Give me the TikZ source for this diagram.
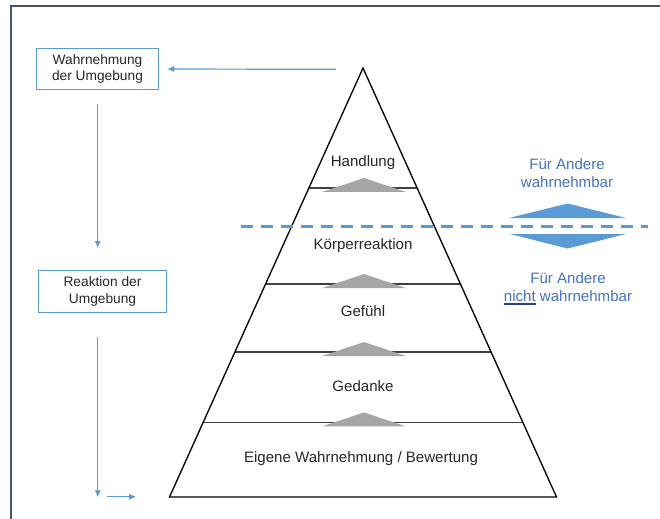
\documentclass[tikz,border=0pt]{standalone}
\usepackage{fontspec}
\setmainfont{Liberation Sans}
\usetikzlibrary{arrows.meta,calc}
\definecolor{framec}{HTML}{44546A}
\definecolor{lblue}{HTML}{5B9BD5}
\definecolor{tblue}{HTML}{4472C4}
\definecolor{ublue}{HTML}{2F3C8F}
\definecolor{tric}{HTML}{A6A6A6}
\definecolor{txt}{HTML}{262626}
\begin{document}
\begin{tikzpicture}[x=0.75pt,y=-0.75pt,
  box/.style={draw=lblue,line width=0.9pt,inner sep=0pt,align=center,text=txt,
    font=\fontsize{10.3}{12.6}\selectfont},
  pyr/.style={draw=black,line width=1pt,line join=miter},
  layer/.style={draw=black!75,line width=0.8pt},
  lbl/.style={text=txt,font=\fontsize{11.3}{13.5}\selectfont,align=center,inner sep=0pt},
  rlbl/.style={lbl,text=tblue},
  arr/.style={draw=lblue,line width=0.9pt,-{Latex[length=5.2pt,width=4.6pt]}},
  graytri/.style={fill=tric,draw=none},
  bluetri/.style={fill=lblue,draw=none},
  sepline/.style={draw=lblue,line width=2.2pt,dash pattern=on 9pt off 6pt}
]
\useasboundingbox (0,0) rectangle (660,518);
\draw[framec,line width=1.5pt] (11,530) -- (11,6) -- (670,6);

% pyramid
\coordinate (apex) at (363,68);
\coordinate (bl) at (169.5,497);
\coordinate (br) at (556.5,497);
\foreach \t/\n in {0.2797/a,0.5035/b,0.662/c,0.8263/d} {
  \coordinate (L\n) at ($(apex)!\t!(bl)$);
  \coordinate (R\n) at ($(apex)!\t!(br)$);
  \coordinate (M\n) at ($(L\n)!0.5!(R\n)$);
  \draw[layer] (L\n) -- (R\n);
  \fill[graytri] ($(M\n)+(-41,4)$) -- ($(M\n)+(1,-10)$) -- ($(M\n)+(43,4)$) -- cycle;
}
\draw[pyr] (apex) -- (br) -- (bl) -- cycle;

\node[lbl] (handlung) at (363,162.5) {Handlung};
\node[lbl] (koerper) at (363,245.5) {Körperreaktion};
\node[lbl] (gefuehl) at (363,311) {Gefühl};
\node[lbl] (gedanke) at (363,386) {Gedanke};
\node[lbl] (eigene) at (361,458.5) {Eigene Wahrnehmung / Bewertung};

% visibility separator
\coordinate (dl) at (241,226.5);
\coordinate (dr) at (648,226.5);
\draw[sepline] (dl) -- (dr);
\fill[bluetri] (509,218) -- (567.5,203.5) -- (626,218) -- cycle;
\fill[bluetri] (510,234) -- (567.5,248.5) -- (626,234) -- cycle;

\node[rlbl] (sicht) at (567,173) {Für Andere\\wahrnehmbar};
\node[rlbl] (unsicht) at (568,289) {Für Andere\\\setbox0\hbox{nicht}{\color{ublue}\rlap{\rule[-2.2pt]{\wd0}{1.1pt}}}nicht wahrnehmbar};

% environment boxes
\node[box,minimum width=91.2pt,minimum height=31.3pt] (wahr) at (97.5,69) {Wahrnehmung\\der Umgebung};
\node[box,minimum width=96.3pt,minimum height=31.5pt] (reak) at (102.5,291.7) {Reaktion der\\Umgebung};

% arrows
\coordinate (hstart) at (336,69.3);
\coordinate (v1e) at (97.7,248);
\coordinate (v2e) at (97.7,497.3);
\coordinate (h2s) at (107.3,496.8);
\draw[arr,shorten >=6.2pt] (hstart) -- (wahr.east);
\draw[arr,shorten <=9.8pt] (wahr.south -| v1e) -- (v1e);
\draw[arr,shorten <=18pt] (reak.south -| v2e) -- (v2e);
\draw[arr,shorten >=25pt] (h2s) -- (h2s -| bl);
\end{tikzpicture}
\end{document}
